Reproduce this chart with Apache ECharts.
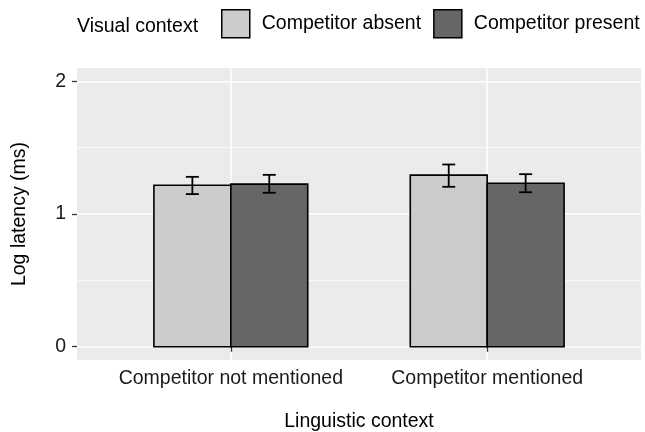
<!DOCTYPE html>
<html>
<head>
    <meta charset="UTF-8">
    <title>Log latency</title>
    <script src="https://cdn.jsdelivr.net/npm/echarts@6/dist/echarts.min.js"></script>
</head>
<body style="margin:0">
<div id="main" style="width:645px; height:432px;"></div>
<script type="text/javascript">
    // data
    var categories = ['Competitor not mentioned', 'Competitor mentioned'];
    var contexts = ['Competitor absent', 'Competitor present'];
    var absentMean = [1.217, 1.293];
    var absentLow = [1.15, 1.205];
    var absentHigh = [1.28, 1.373];
    var presentMean = [1.225, 1.232];
    var presentLow = [1.16, 1.164];
    var presentHigh = [1.295, 1.30];
    var yTicks = [0, 1, 2];
    var yMinor = [0.5, 1.5];

    var font = 'Liberation Sans, Arial, sans-serif';
    var fs = 19.5;
    var barW = 0.3;

    function rows(mean, low, high, offset) {
        return mean.map(function (m, i) {
            return [i + 1 + offset, m, low[i], high[i]];
        });
    }

    // bar + error bar, drawn through the axes
    function renderBar(params, api) {
        var x = api.value(0);
        var p0 = api.coord([x - barW / 2, api.value(1)]);
        var p1 = api.coord([x + barW / 2, 0]);
        var lo = api.coord([x, api.value(2)]);
        var hi = api.coord([x, api.value(3)]);
        var cap = 6.5;
        var ls = { stroke: '#000', lineWidth: 1.8 };
        return {
            type: 'group',
            children: [
                { type: 'rect', shape: { x: p0[0], y: p0[1], width: p1[0] - p0[0], height: p1[1] - p0[1] },
                  style: { fill: api.visual('color'), stroke: '#000', lineWidth: 1.6 } },
                { type: 'line', shape: { x1: lo[0], y1: lo[1], x2: hi[0], y2: hi[1] }, style: ls },
                { type: 'line', shape: { x1: lo[0] - cap, y1: lo[1], x2: lo[0] + cap, y2: lo[1] }, style: ls },
                { type: 'line', shape: { x1: hi[0] - cap, y1: hi[1], x2: hi[0] + cap, y2: hi[1] }, style: ls }
            ]
        };
    }

    var myChart = echarts.init(document.getElementById('main'));

    var option = {
        animation: false,
        textStyle: { fontFamily: font },
        title: {
            text: 'Visual context',
            left: 72, top: 12,
            textStyle: { fontSize: fs, fontWeight: 'normal', color: '#000', fontFamily: font }
        },
        legend: {
            data: contexts,
            left: 221, top: 9, width: 424, padding: 0,
            itemWidth: 28, itemHeight: 28, itemGap: 12,
            icon: 'rect',
            itemStyle: { borderColor: '#000', borderWidth: 1.5 },
            textStyle: { fontSize: fs, color: '#000', fontFamily: font, padding: [0, 0, 0, 7] }
        },
        grid: {
            left: 77, right: 4, top: 68, bottom: 72,
            outerBoundsMode: 'none', containLabel: false,
            show: true, backgroundColor: '#EBEBEB', borderWidth: 0
        },
        xAxis: {
            type: 'value', min: 0.4, max: 2.6,
            name: 'Linguistic context', nameLocation: 'middle', nameGap: 52,
            nameTextStyle: { fontSize: fs, color: '#000' },
            axisLine: { show: false },
            axisTick: { show: true, length: 5, customValues: [1, 2], lineStyle: { color: '#333', width: 1.3 } },
            axisLabel: {
                customValues: [1, 2], fontSize: fs, color: '#1A1A1A', margin: 9,
                formatter: function (v) { return categories[Math.round(v) - 1]; }
            },
            splitLine: { show: true, lineStyle: { color: '#fff', width: 1.5 } }
        },
        yAxis: {
            type: 'value', min: -0.1, max: 2.1,
            name: 'Log latency (ms)', nameLocation: 'middle', nameGap: 47,
            nameTextStyle: { fontSize: fs, color: '#000' },
            axisLine: { show: false },
            axisTick: { show: true, length: 5, customValues: yTicks, lineStyle: { color: '#333', width: 1.3 } },
            axisLabel: { customValues: yTicks, fontSize: fs, color: '#1A1A1A', margin: 11 },
            splitLine: { show: true, lineStyle: { color: '#fff', width: 1.5 } }
        },
        series: [
            {
                type: 'custom', name: 'minor', silent: true, z: 1,
                data: yMinor,
                renderItem: function (params, api) {
                    var a = api.coord([0.4, api.value(0)]);
                    var b = api.coord([2.6, api.value(0)]);
                    return { type: 'line', shape: { x1: a[0], y1: a[1], x2: b[0], y2: b[1] },
                             style: { stroke: '#fff', lineWidth: 0.8 } };
                },
                encode: { y: 0 }
            },
            {
                type: 'custom', name: contexts[0], z: 3,
                itemStyle: { color: '#CCCCCC' },
                data: rows(absentMean, absentLow, absentHigh, -0.15),
                renderItem: renderBar,
                encode: { x: 0, y: [1, 2, 3] }
            },
            {
                type: 'custom', name: contexts[1], z: 3,
                itemStyle: { color: '#666666' },
                data: rows(presentMean, presentLow, presentHigh, 0.15),
                renderItem: renderBar,
                encode: { x: 0, y: [1, 2, 3] }
            }
        ]
    };

    myChart.setOption(option);
</script>
</body>
</html>
